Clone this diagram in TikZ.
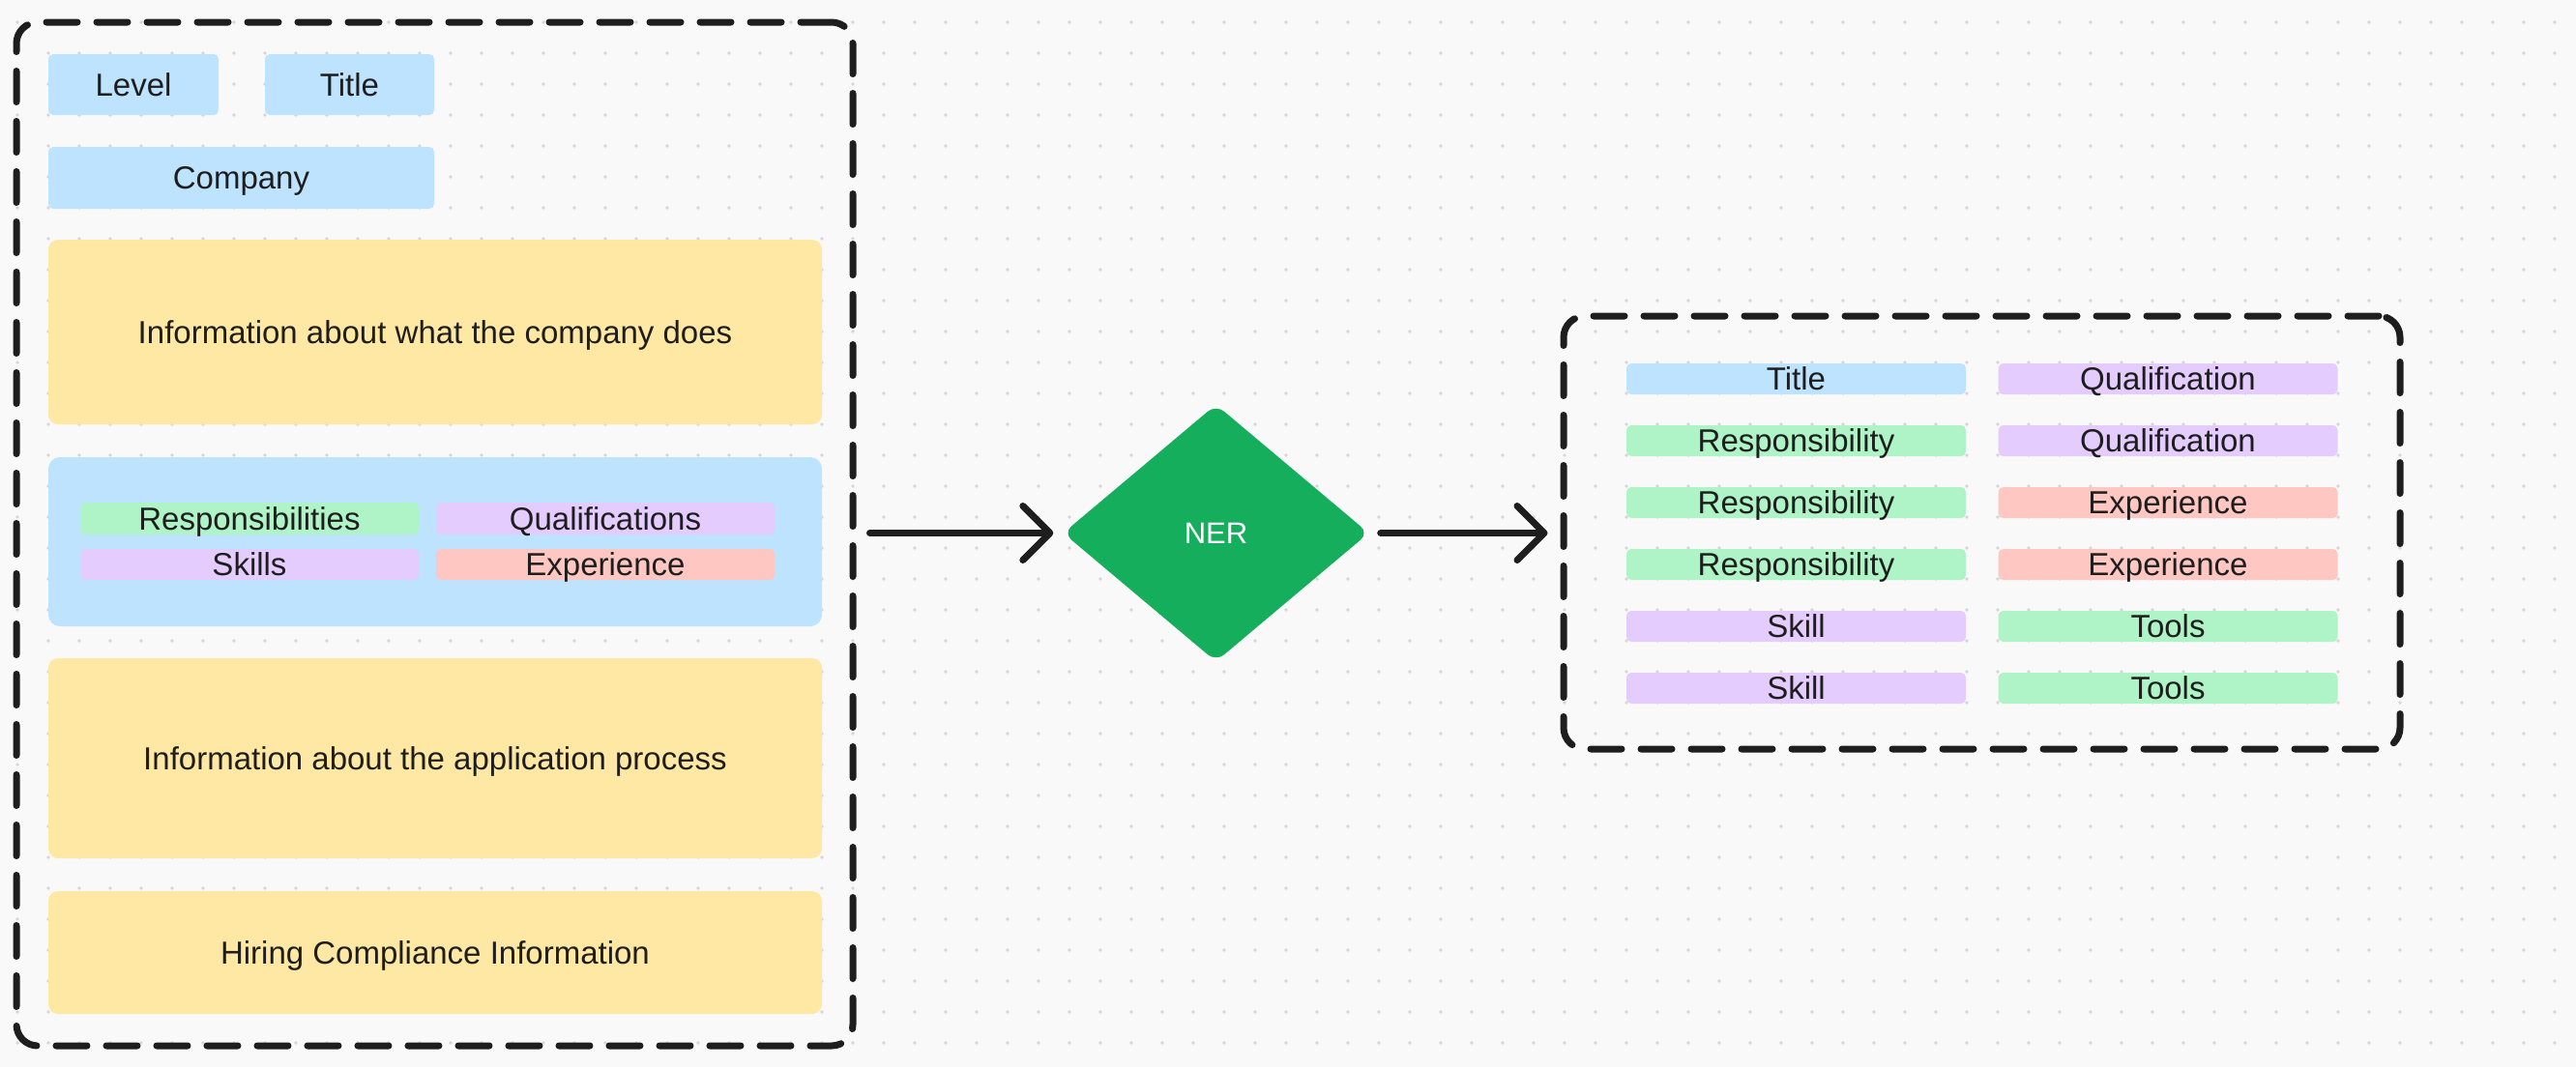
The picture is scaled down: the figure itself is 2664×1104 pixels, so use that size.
\documentclass[tikz,border=0pt]{standalone}
\usepackage{fontspec}
\setmainfont{Liberation Sans}
\usetikzlibrary{shapes.geometric,arrows.meta}
\definecolor{bgc}{HTML}{F9F9F9}
\definecolor{dotc}{HTML}{D6D6D6}
\definecolor{txt}{HTML}{1E1E1E}
\definecolor{lblue}{HTML}{BDE3FF}
\definecolor{lyellow}{HTML}{FFE8A3}
\definecolor{lgreen}{HTML}{AFF4C6}
\definecolor{lpurple}{HTML}{E4CCFF}
\definecolor{lpink}{HTML}{FFC7C2}
\definecolor{nerg}{HTML}{14AE5C}
\definecolor{linec}{HTML}{1E1E1E}
\newcommand{\tagfont}{\fontsize{33}{40}\selectfont}
\newcommand{\nerfont}{\fontsize{31}{37}\selectfont}
\tikzset{
  tagbox/.style={rectangle, rounded corners=5pt, inner sep=0pt, text=txt, font=\tagfont,
    text height=23.6pt, text depth=0pt, align=center},
  bluetag/.style={tagbox, fill=lblue},
  yellowtag/.style={tagbox, fill=lyellow, rounded corners=10pt},
  greentag/.style={tagbox, fill=lgreen},
  purpletag/.style={tagbox, fill=lpurple},
  pinktag/.style={tagbox, fill=lpink},
  smalltag/.style={minimum width=351pt, minimum height=32pt},
  groupbox/.style={rectangle, draw=linec, line width=7pt, dash pattern=on 32pt off 20pt,
    line cap=round, rounded corners=22pt, inner sep=0pt},
  flow/.style={draw=linec, line width=7pt, line cap=round,
    -{Straight Barb[length=28pt,width=56pt,round]}}
}
\begin{document}
\begin{tikzpicture}[x=1pt,y=-1pt]
\fill[bgc] (0,0) rectangle (2664,1104);
\useasboundingbox (0,0) rectangle (2664,1104);
\foreach \i in {0,...,82}{
  \foreach \j in {0,...,34}{
    \fill[dotc] (18+32*\i,23+32*\j) circle[radius=1.9pt];
  }
}
% left group
\node[groupbox, minimum width=865pt, minimum height=1059pt] (lbox) at (449.5,552.5) {};
\node[bluetag, minimum width=176pt, minimum height=63pt] (level) at (138,87.5) {Level};
\node[bluetag, minimum width=175pt, minimum height=63pt] (ltitle) at (361.5,87.5) {Title};
\node[bluetag, minimum width=399pt, minimum height=64pt] (company) at (249.5,184) {Company};
\node[yellowtag, minimum width=800pt, minimum height=191pt] (info1) at (450,343.5) {Information about what the company does};
\node[bluetag, rounded corners=12pt, minimum width=800pt, minimum height=175pt] (reqs) at (450,560.5) {};
\node[greentag, minimum width=350pt, minimum height=33pt] (resps) at (258,536.5) {Responsibilities};
\node[purpletag, minimum width=350pt, minimum height=33pt] (quals) at (626,536.5) {Qualifications};
\node[purpletag, minimum width=350pt, minimum height=32pt] (skills) at (258,584) {Skills};
\node[pinktag, minimum width=350pt, minimum height=32pt] (exps) at (626,584) {Experience};
\node[yellowtag, minimum width=800pt, minimum height=207pt] (info2) at (450,784.5) {Information about the application process};
\node[yellowtag, minimum width=800pt, minimum height=127pt] (hiring) at (450,985.5) {Hiring Compliance Information};
% NER
\node[diamond, aspect=1.19, minimum width=316pt, minimum height=266pt, inner sep=0pt,
  fill=nerg, rounded corners=11pt, text=white, font=\nerfont, text height=22.2pt, text depth=0pt] (ner) at (1257.5,551.5) {NER};
% right group
\node[groupbox, minimum width=865pt, minimum height=448pt] (rbox) at (2049.5,551) {};
\node[bluetag, smalltag] (r1a) at (1857.5,392) {Title};
\node[purpletag, smalltag] (r1b) at (2242,392) {Qualification};
\node[greentag, smalltag] (r2a) at (1857.5,456) {Responsibility};
\node[purpletag, smalltag] (r2b) at (2242,456) {Qualification};
\node[greentag, smalltag] (r3a) at (1857.5,520) {Responsibility};
\node[pinktag, smalltag] (r3b) at (2242,520) {Experience};
\node[greentag, smalltag] (r4a) at (1857.5,584) {Responsibility};
\node[pinktag, smalltag] (r4b) at (2242,584) {Experience};
\node[purpletag, smalltag] (r5a) at (1857.5,648) {Skill};
\node[greentag, smalltag] (r5b) at (2242,648) {Tools};
\node[purpletag, smalltag] (r6a) at (1857.5,712) {Skill};
\node[greentag, smalltag] (r6b) at (2242,712) {Tools};
% connectors
\draw[flow, shorten <=14pt, shorten >=10pt] (lbox.east |- ner.west) -- (ner.west);
\draw[flow, shorten <=12pt, shorten >=13pt] (ner.east) -- (rbox.west |- ner.east);
\end{tikzpicture}
\end{document}
